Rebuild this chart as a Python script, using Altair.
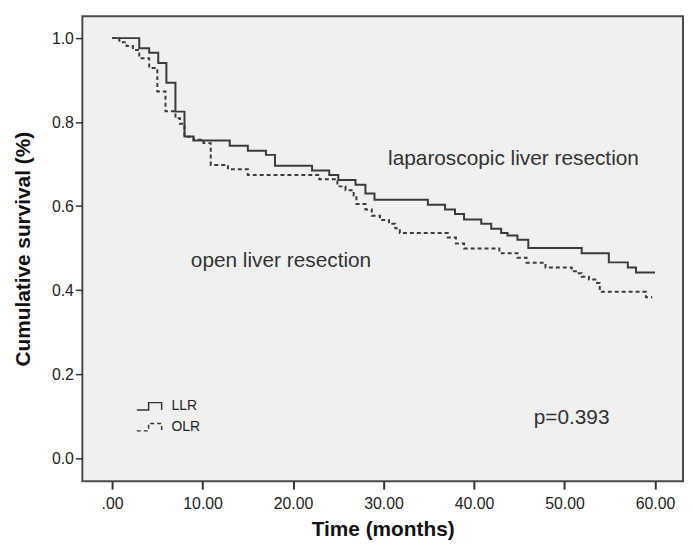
import altair as alt
import pandas as pd

# ---- data (Kaplan-Meier step curves) ----
llr_time = [0, 3.0, 4.1, 5.1, 6.0, 7.0, 8.0, 9.0, 13.0, 15.0, 17.0, 18.0, 22.1, 24.0,
            25.0, 26.9, 28.0, 29.0, 34.9, 36.8, 37.9, 38.9, 40.8, 41.9, 43.0, 43.7,
            44.8, 46.0, 51.9, 54.9, 57.0, 57.9, 60.0]
llr_surv = [1.0, 0.976, 0.965, 0.941, 0.894, 0.825, 0.766, 0.756, 0.744, 0.732, 0.722,
            0.696, 0.685, 0.674, 0.662, 0.651, 0.630, 0.615, 0.603, 0.592, 0.581, 0.568,
            0.558, 0.546, 0.536, 0.530, 0.520, 0.500, 0.488, 0.466, 0.454, 0.442, 0.442]

olr_time = [0, 0.8, 1.6, 2.3, 3.0, 4.1, 5.0, 5.9, 7.0, 7.5, 8.0, 9.0, 10.1, 10.9, 12.8,
            15.0, 22.9, 24.9, 25.8, 26.7, 27.0, 28.0, 28.7, 29.6, 30.6, 31.3, 31.8,
            37.1, 38.0, 38.9, 42.8, 44.8, 45.8, 47.9, 50.8, 51.4, 51.9, 52.7, 53.6,
            53.9, 59.0, 59.7]
olr_surv = [1.0, 0.990, 0.981, 0.972, 0.952, 0.929, 0.873, 0.826, 0.809, 0.796, 0.765,
            0.758, 0.750, 0.698, 0.688, 0.674, 0.664, 0.647, 0.638, 0.625, 0.605, 0.592,
            0.577, 0.567, 0.558, 0.547, 0.536, 0.525, 0.511, 0.499, 0.488, 0.477, 0.465,
            0.454, 0.445, 0.440, 0.432, 0.425, 0.417, 0.396, 0.383, 0.383]

groups = ["LLR", "OLR"]

x_ticks = [0, 10, 20, 30, 40, 50, 60]
y_ticks = [0.0, 0.2, 0.4, 0.6, 0.8, 1.0]

ann_text = ["laparoscopic liver resection", "open liver resection", "p=0.393"]
ann_x = [30.5, 8.7, 46.6]
ann_y = [0.698, 0.455, 0.081]

# ---- tables ----
df = pd.concat([
    pd.DataFrame({"time": llr_time, "surv": llr_surv, "group": groups[0]}),
    pd.DataFrame({"time": olr_time, "surv": olr_surv, "group": groups[1]}),
], ignore_index=True)
ann = pd.DataFrame({"x": ann_x, "y": ann_y, "label": ann_text})

FONT = "Liberation Sans"
X_DOM = [-3.29, 63.1]
Y_DOM = [-0.055, 1.052]
xs = alt.Scale(domain=X_DOM, nice=False, zero=False)
ys = alt.Scale(domain=Y_DOM, nice=False, zero=False)

x_axis = alt.Axis(
    values=x_ticks,
    labelExpr="datum.value == 0 ? '.00' : format(datum.value, '.2f')",
    title="Time (months)",
    domain=False, grid=False,
    tickSize=8, tickWidth=2, tickColor="#333333",
    labelPadding=7, labelFontSize=16, labelFont=FONT, labelColor="#222222",
    titleFont=FONT, titleFontSize=21, titleFontWeight="bold", titleColor="#111111",
    titleBaseline="alphabetic", titleY=55,
)
y_axis = alt.Axis(
    values=y_ticks, format=".1f",
    title="Cumulative survival (%)",
    domain=False, grid=False,
    tickSize=7, tickWidth=1.5, tickColor="#333333",
    labelPadding=2, labelFontSize=16, labelFont=FONT, labelColor="#222222",
    titleFont=FONT, titleFontSize=21, titleFontWeight="bold", titleColor="#111111",
    titleAngle=270, titleBaseline="alphabetic", titleAlign="center",
    titleX=-53, titleY=234.5,
)

lines = alt.Chart(df).mark_line(
    interpolate="step-after", strokeWidth=2, color="#3a3a3a"
).encode(
    x=alt.X("time:Q", scale=xs, axis=x_axis),
    y=alt.Y("surv:Q", scale=ys, axis=y_axis),
    strokeDash=alt.StrokeDash(
        "group:N",
        scale=alt.Scale(domain=groups, range=[[1, 0], [4, 3]]),
        legend=alt.Legend(
            orient="none", legendX=54, legendY=380, title=None,
            symbolType="M-1,0.3L-0.05,0.3L-0.05,-0.3L1,-0.3L1,0.3",
            symbolSize=625, symbolStrokeWidth=1.5,
            symbolStrokeColor="#333333", symbolFillColor="transparent",
            labelFont=FONT, labelFontSize=14, labelColor="#222222",
            labelOffset=9, rowPadding=-2,
        ),
    ),
)

texts = alt.Chart(ann).mark_text(
    align="left", baseline="alphabetic", font=FONT, fontSize=21, color="#333333"
).encode(
    x=alt.X("x:Q", scale=xs),
    y=alt.Y("y:Q", scale=ys),
    text="label:N",
)

chart = alt.layer(lines, texts).properties(
    width=606, height=469,
    autosize=alt.AutoSizeParams(type="none"),
    padding={"left": 75, "top": 6, "right": 2, "bottom": 59},
    background="white",
).configure_view(
    fill="#f0f0f0", stroke="#4a4a4a", strokeWidth=2
)

chart.save("out.html", embed_options={"renderer": "svg", "actions": False})
